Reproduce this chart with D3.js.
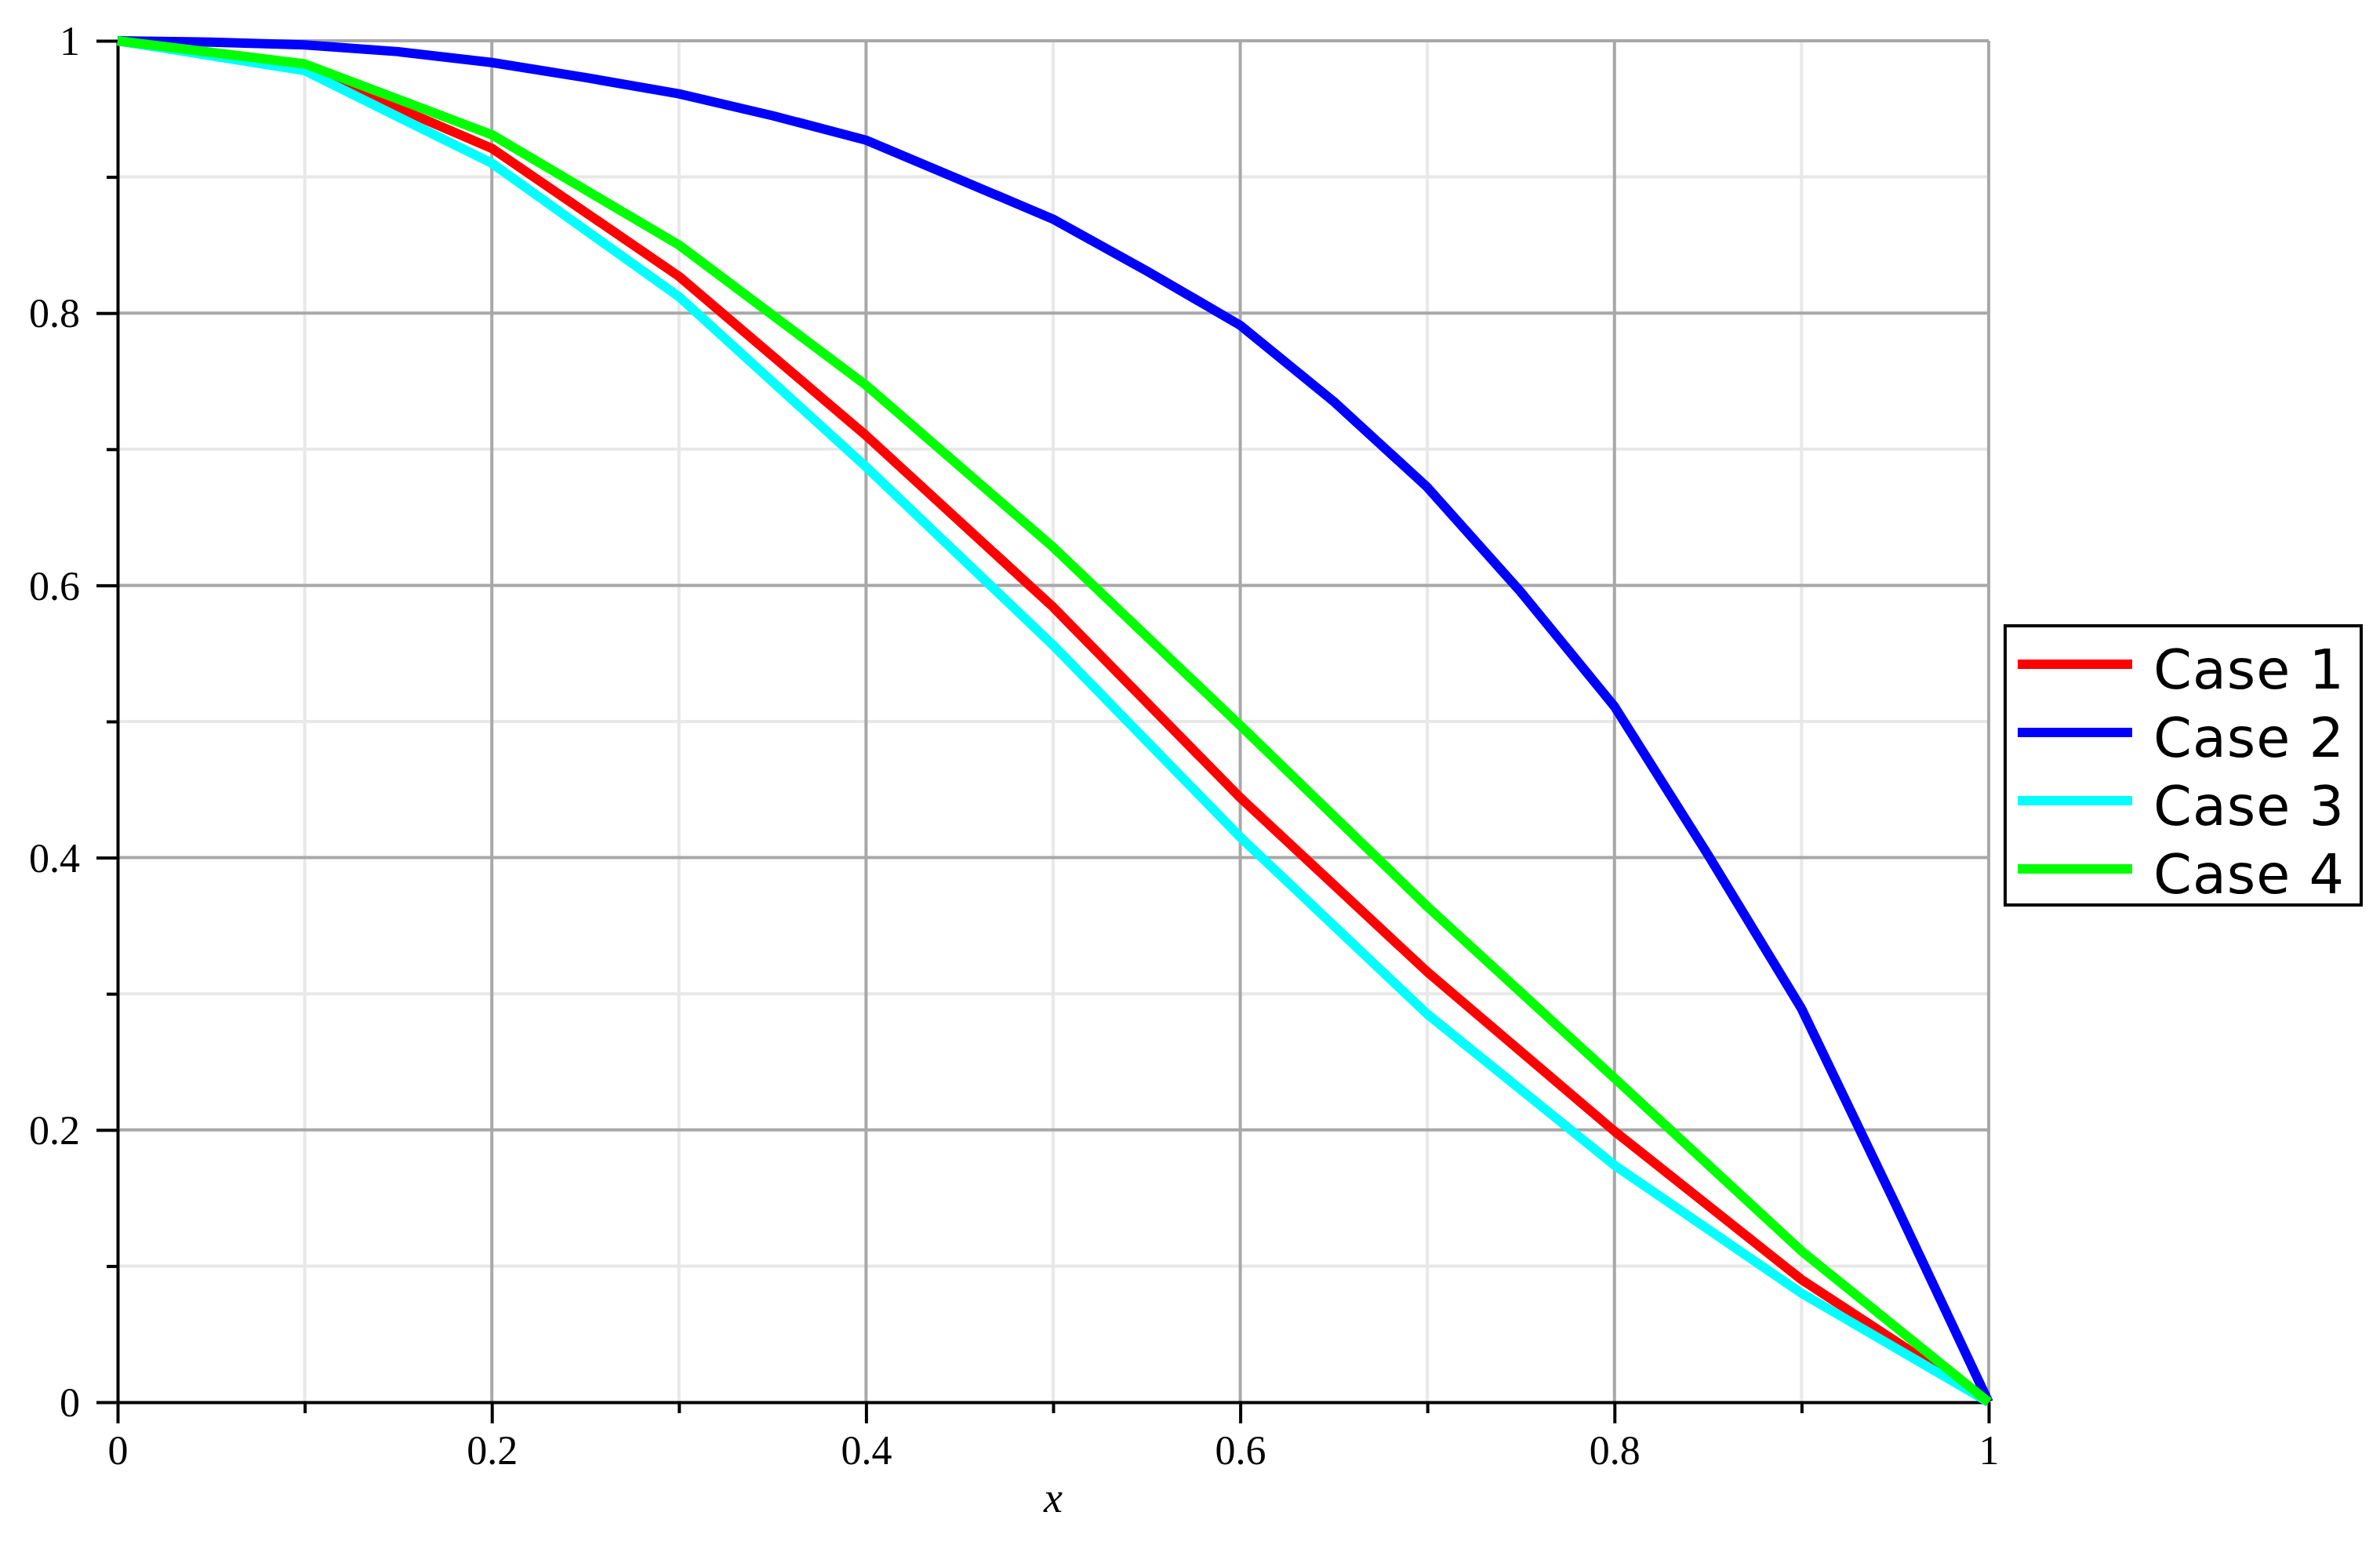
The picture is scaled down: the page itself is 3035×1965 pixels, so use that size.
<!DOCTYPE html>
<html>
<head>
<meta charset="utf-8">
<script src="https://cdn.jsdelivr.net/npm/d3@7/dist/d3.min.js"></script>
<style>
    body { margin: 0; background: #fff; }
</style>
</head>
<body>
<div id="chart"></div>
<script>
// values
var xCoarse = [0, 0.1, 0.2, 0.3, 0.4, 0.5, 0.6, 0.7, 0.8, 0.9, 1];
var case1 = [1, 0.980, 0.921, 0.827, 0.710, 0.584, 0.444, 0.316, 0.199, 0.090, 0];
var case3 = [1, 0.978, 0.910, 0.812, 0.687, 0.556, 0.415, 0.285, 0.174, 0.080, 0];
var case4 = [1, 0.983, 0.931, 0.850, 0.747, 0.628, 0.497, 0.364, 0.238, 0.111, 0];

var xFine = [0, 0.05, 0.1, 0.15, 0.2, 0.25, 0.3, 0.35, 0.4, 0.45, 0.5,
    0.55, 0.6, 0.65, 0.7, 0.75, 0.8, 0.85, 0.9, 0.95, 1];
var case2 = [1, 0.999, 0.997, 0.992, 0.984, 0.973, 0.961, 0.945, 0.927, 0.898, 0.869,
    0.831, 0.791, 0.735, 0.672, 0.595, 0.511, 0.402, 0.289, 0.146, 0];

var seriesNames = ["Case 1", "Case 2", "Case 3", "Case 4"];
var seriesColors = ["#ff0000", "#0000ff", "#00ffff", "#00ff00"];

var majorTicks = [0, 0.2, 0.4, 0.6, 0.8, 1];
var minorTicks = [0.1, 0.3, 0.5, 0.7, 0.9];
var tickLabels = ["0", "0.2", "0.4", "0.6", "0.8", "1"];
var xTitle = "x";

var w = 3035,
    h = 1965;

var plotLeft = 150, plotRight = 2536, plotTop = 52, plotBottom = 1788;

var x = d3.scaleLinear().domain([0, 1]).range([plotLeft, plotRight]);
var y = d3.scaleLinear().domain([0, 1]).range([plotBottom, plotTop]);

var svg = d3.select("#chart").append("svg")
    .attr("width", w)
    .attr("height", h)
    .style("display", "block")
    .style("background", "#fff");

// grid, minor first then major
var grid = svg.append("g");
grid.selectAll("line.vminor")
    .data(minorTicks)
    .enter().append("line")
    .attr("x1", function (d) { return x(d); })
    .attr("x2", function (d) { return x(d); })
    .attr("y1", plotTop).attr("y2", plotBottom)
    .attr("stroke", "#e8e8e8").attr("stroke-width", 4);
grid.selectAll("line.hminor")
    .data(minorTicks)
    .enter().append("line")
    .attr("y1", function (d) { return y(d); })
    .attr("y2", function (d) { return y(d); })
    .attr("x1", plotLeft).attr("x2", plotRight)
    .attr("stroke", "#e8e8e8").attr("stroke-width", 4);
grid.selectAll("line.vmajor")
    .data(majorTicks.slice(1))
    .enter().append("line")
    .attr("x1", function (d) { return x(d); })
    .attr("x2", function (d) { return x(d); })
    .attr("y1", plotTop).attr("y2", plotBottom)
    .attr("stroke", "#a8a8a8").attr("stroke-width", 4);
grid.selectAll("line.hmajor")
    .data(majorTicks.slice(1))
    .enter().append("line")
    .attr("y1", function (d) { return y(d); })
    .attr("y2", function (d) { return y(d); })
    .attr("x1", plotLeft).attr("x2", plotRight)
    .attr("stroke", "#a8a8a8").attr("stroke-width", 4);

// axes
function styleAxis(g) {
    g.selectAll("path.domain").attr("stroke", "#000").attr("stroke-width", 4);
    g.selectAll(".tick line").attr("stroke", "#000").attr("stroke-width", 4);
    g.selectAll("text")
        .attr("fill", "#000")
        .style("font-family", "'Liberation Serif', 'Times New Roman', serif")
        .style("font-size", "52px");
}

svg.append("g")
    .attr("transform", "translate(0," + plotBottom + ")")
    .call(d3.axisBottom(x).tickValues(minorTicks).tickSize(14).tickFormat(""))
    .call(function (g) { g.select(".domain").remove(); })
    .call(styleAxis);
svg.append("g")
    .attr("transform", "translate(" + plotLeft + ",0)")
    .call(d3.axisLeft(y).tickValues(minorTicks).tickSize(14).tickFormat(""))
    .call(function (g) { g.select(".domain").remove(); })
    .call(styleAxis);

var xAxis = svg.append("g")
    .attr("transform", "translate(0," + plotBottom + ")")
    .call(d3.axisBottom(x).tickValues(majorTicks).tickSize(27).tickSizeOuter(0)
        .tickFormat(function (d, i) { return tickLabels[i]; }))
    .call(styleAxis);
xAxis.selectAll("text").attr("y", 79).attr("dy", null);

var yAxis = svg.append("g")
    .attr("transform", "translate(" + plotLeft + ",0)")
    .call(d3.axisLeft(y).tickValues(majorTicks).tickSize(27).tickSizeOuter(0)
        .tickFormat(function (d, i) { return tickLabels[i]; }))
    .call(styleAxis);
yAxis.selectAll("text").attr("x", -48).attr("dy", "0.34em");

svg.append("text")
    .attr("x", (plotLeft + plotRight) / 2)
    .attr("y", 1928)
    .attr("text-anchor", "middle")
    .style("font-family", "'Liberation Serif', 'Times New Roman', serif")
    .style("font-style", "italic")
    .style("font-size", "54px")
    .text(xTitle);

// curves, drawn in legend order so Case 4 ends up on top
var series = [
    {xs: xCoarse, ys: case1},
    {xs: xFine, ys: case2},
    {xs: xCoarse, ys: case3},
    {xs: xCoarse, ys: case4}
];

series.forEach(function (s, i) {
    var line = d3.line()
        .x(function (d) { return x(s.xs[d]); })
        .y(function (d) { return y(s.ys[d]); });
    svg.append("path")
        .attr("d", line(d3.range(s.xs.length)))
        .attr("fill", "none")
        .attr("stroke", seriesColors[i])
        .attr("stroke-width", 12)
        .attr("stroke-linejoin", "round");
});

// legend
var legend = svg.append("g");
legend.append("rect")
    .attr("x", 2557).attr("y", 798)
    .attr("width", 454).attr("height", 356)
    .attr("fill", "#fff")
    .attr("stroke", "#000")
    .attr("stroke-width", 4);

var items = legend.selectAll("g.item")
    .data(seriesNames)
    .enter().append("g")
    .attr("transform", function (d, i) { return "translate(0," + (847 + i * 87) + ")"; });
items.append("line")
    .attr("x1", 2573).attr("x2", 2719)
    .attr("y1", 0).attr("y2", 0)
    .attr("stroke", function (d, i) { return seriesColors[i]; })
    .attr("stroke-width", 12);
items.append("text")
    .attr("x", 2746)
    .attr("y", 31)
    .style("font-family", "'DejaVu Sans', Verdana, sans-serif")
    .style("font-size", "70px")
    .style("letter-spacing", "1px")
    .attr("fill", "#000")
    .text(function (d) { return d; });
</script>
</body>
</html>
